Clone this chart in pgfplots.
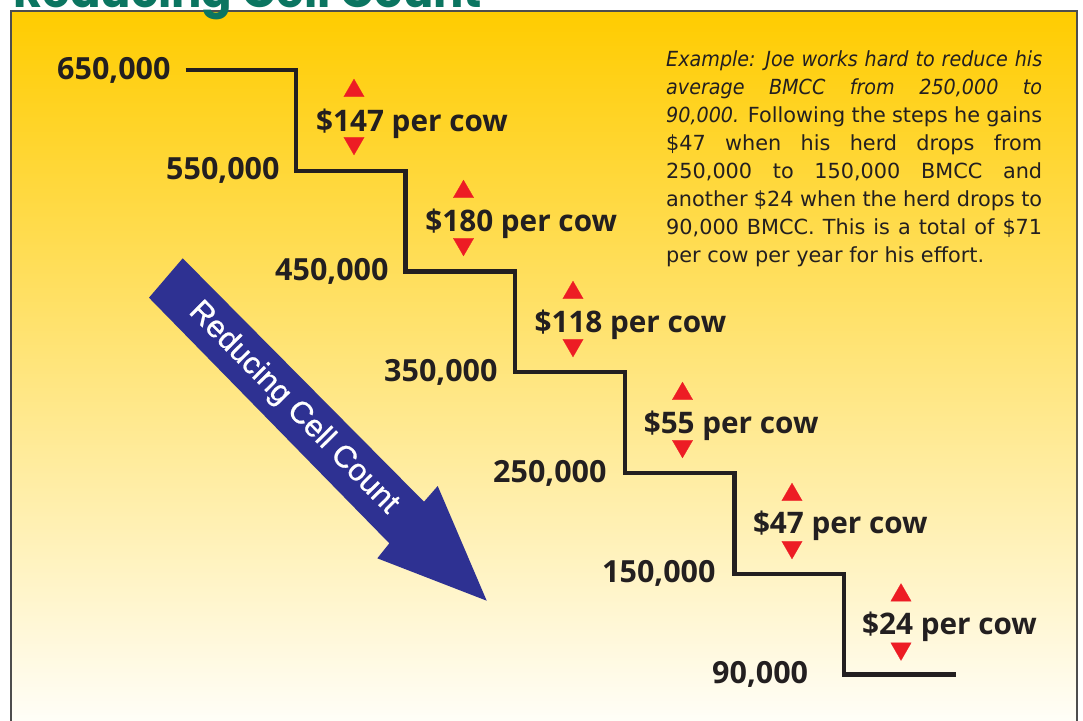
\documentclass[border=0pt]{standalone}
\usepackage{fontspec}
\usepackage{pgfplots}
\pgfplotsset{compat=1.18}
\newfontfamily\bodyfont{DejaVu Sans}
\newfontfamily\exitfam{DejaVu Sans}[FakeStretch=0.92]
\newcommand\exit{\exitfam\itshape}
\newfontfamily\labfont{Open Sans}
\newfontfamily\arrowfont{Liberation Sans}[FakeBold=0.8]
\newfontfamily\titlefont{Poppins}
\definecolor{textdark}{HTML}{231F20}
\definecolor{redtri}{HTML}{ED1C24}
\definecolor{arrowblue}{HTML}{2E3192}
\definecolor{titleteal}{HTML}{0B7560}
\definecolor{framegray}{HTML}{4D4D4D}
\definecolor{ytop}{HTML}{FFCC00}
\definecolor{ymid}{HTML}{FFE07E}
\definecolor{ybot}{HTML}{FFFEF8}
\begin{document}
\begin{tikzpicture}
\begin{axis}[
  width=1083pt, height=720pt, scale only axis,
  xmin=0, xmax=1083, ymin=0, ymax=720, y dir=reverse,
  hide axis, clip=true,
]
% background panel
\shade[top color=ytop, middle color=ymid, bottom color=ybot] (axis cs:11,10) rectangle (axis cs:1076.5,722);
\draw[framegray, line width=2pt] (axis cs:11,735) -- (axis cs:11,10.5) -- (axis cs:1076.5,10.5) -- (axis cs:1076.5,735);
% title (cut off at the top)
\node[anchor=base west, inner sep=0, text=titleteal, font={\titlefont\bfseries\fontsize{45pt}{45pt}\selectfont}] at (axis cs:13,7.5) {Reducing Cell Count};
% blue arrow
\addplot[fill=arrowblue, draw=none] coordinates {
 (182.7,258.3) (424,501.7) (437.7,486) (486.7,600.7) (377.3,558.3) (389.3,543.3) (149,297.7)
};
\node[rotate=-45.35, inner sep=0, text=white, font={\arrowfont\fontsize{31pt}{31pt}\selectfont}] at (axis cs:293.5,408) {Reducing Cell Count};
% step line
\addplot[line width=4.3pt, color=textdark, line join=miter, mark=none] coordinates {
 (185.7,70) (296,70) (296,170.75) (405.6,170.75) (405.6,271.5) (515.2,271.5)
 (515.2,372.25) (624.8,372.25) (624.8,473) (734.4,473) (734.4,573.75)
 (844,573.75) (844,674.5) (955.5,674.5)
};
% red triangles
\addplot[only marks, mark=triangle*, mark size=11.8pt, mark options={draw=redtri, fill=redtri, line width=0.2pt}] coordinates {
 (354,90.8) (463.5,191.8) (573,292.8) (682.5,393.8) (792,494.8) (901,595.3)
};
\addplot[only marks, mark=triangle*, mark size=11.8pt, mark options={draw=redtri, fill=redtri, line width=0.2pt, rotate=180}] coordinates {
 (354,143.2) (463.5,244.2) (573,345.2) (682.5,446.2) (792,547.2) (901,648.7)
};
% level labels
\tikzset{lev/.style={anchor=base west, inner sep=0, text=textdark, font={\labfont\bfseries\fontsize{30.5pt}{31pt}\selectfont}}}
\tikzset{gain/.style={anchor=base west, inner sep=0, text=textdark, font={\labfont\bfseries\fontsize{29.7pt}{30pt}\selectfont}}}
\node[lev] at (axis cs:57,79) {650,000};
\node[lev] at (axis cs:166,179.75) {550,000};
\node[lev] at (axis cs:275,280.5) {450,000};
\node[lev] at (axis cs:384,381.25) {350,000};
\node[lev] at (axis cs:493,482) {250,000};
\node[lev] at (axis cs:602,582.75) {150,000};
\node[lev] at (axis cs:712,683.5) {90,000};
% gain labels
\node[gain] at (axis cs:316,131) {\$147 per cow};
\node[gain] at (axis cs:425.2,231.7) {\$180 per cow};
\node[gain] at (axis cs:534.4,332.4) {\$118 per cow};
\node[gain] at (axis cs:643.6,433.1) {\$55 per cow};
\node[gain] at (axis cs:752.8,533.8) {\$47 per cow};
\node[gain] at (axis cs:862,634.5) {\$24 per cow};
% example text
\node[anchor=base west, inner sep=0, text=textdark] at (axis cs:666,66.7) {\parbox[t]{376pt}{\bodyfont\fontsize{20.8pt}{27.9pt}\selectfont
\makebox[376pt][s]{\exit Example: Joe works hard to reduce his}\\
\makebox[376pt][s]{\exit average BMCC from 250,000 to}\\
\makebox[376pt][s]{{\exit 90,000.} Following the steps he gains}\\
\makebox[376pt][s]{\$47 when his herd drops from}\\
\makebox[376pt][s]{250,000 to 150,000 BMCC and}\\
\makebox[376pt][s]{another \$24 when the herd drops to}\\
\makebox[376pt][s]{90,000 BMCC. This is a total of \$71}\\
\makebox[376pt][l]{per cow per year for his effort.}}};
\end{axis}
\pgfresetboundingbox
\useasboundingbox (current axis.south west) rectangle (current axis.north east);
\end{tikzpicture}
\end{document}
